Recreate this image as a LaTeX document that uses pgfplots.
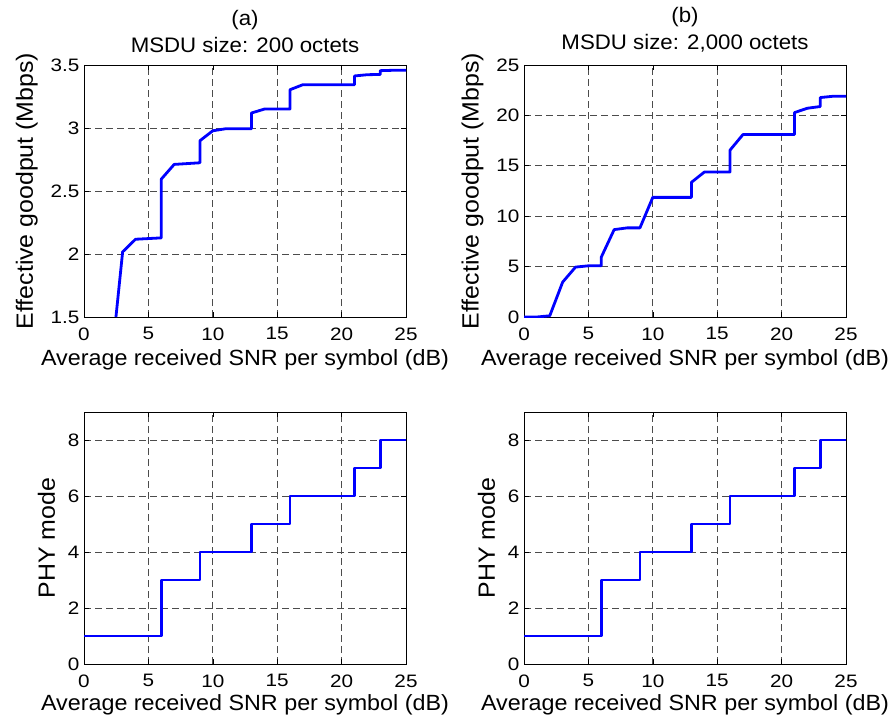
\documentclass[border=0pt]{standalone}
\usepackage{fontspec}
\setmainfont{Liberation Sans}
\newfontfamily\tickfont[FakeStretch=1.15]{Liberation Sans}
\newfontfamily\labfont[FakeStretch=1.06]{Liberation Sans}
\usepackage{pgfplots}
\pgfplotsset{compat=1.18}
\pgfplotsset{
  mystyle/.style={
    scale only axis,
    width=322pt, height=252pt,
    xmin=0, xmax=25,
    xtick={0,5,10,15,20,25},
    tick pos=both, tick align=inside,
    major tick length=5pt,
    axis line style={black, line width=0.8pt},
    every tick/.style={black, line width=0.6pt},
    grid=major,
    major grid style={dash pattern=on 7pt off 4pt, gray!60!black, line width=0.8pt},
    /pgf/number format/assume math mode=true,
    tick label style={font=\tickfont\fontsize{18}{20}\selectfont},
    xlabel style={font=\labfont\fontsize{22}{26}\selectfont},
    ylabel style={font=\labfont\fontsize{23.5}{26}\selectfont, yshift=6pt},
    title style={font=\labfont\fontsize{21}{27}\selectfont, align=center, yshift=3pt},
    xlabel={Average received SNR per symbol (dB)},
    xticklabel style={yshift=-7pt},
    yticklabel style={xshift=-1pt},
  },
  myline/.style={blue, line width=2.8pt, line join=round},
}
\begin{document}
\begin{tikzpicture}
\path[use as bounding box] (0pt,0pt) rectangle (888pt,724pt);
% (a) top
\begin{axis}[mystyle, at={(84pt,407pt)}, anchor=south west,
  ymin=1.5, ymax=3.5, ytick={1.5,2,2.5,3,3.5},
  ylabel={Effective goodput (Mbps)}, xlabel style={yshift=-2pt},
  title={(a)\\MSDU size: 200 octets}]
\addplot[myline] coordinates {
(2.48,1.5) (3,2.017) (4,2.117) (6,2.128) (6,2.594) (7,2.711) (9,2.724) (9,2.899)
(10,2.978) (11,2.994) (13,2.994) (13,3.119) (14,3.150) (16,3.150) (16,3.304)
(17,3.344) (21,3.344) (21,3.413) (22,3.423) (23,3.425) (23,3.455) (24,3.458) (25,3.458)
};
\end{axis}
% (b) top
\begin{axis}[mystyle, at={(524pt,407pt)}, anchor=south west,
  ymin=0, ymax=25, ytick={0,5,10,15,20,25},
  ylabel={Effective goodput (Mbps)}, xlabel style={yshift=-2pt},
  title={(b)\\MSDU size: {2,000} octets}]
\addplot[myline] coordinates {
(0,0) (1,0) (2,0.12) (3,3.46) (4,4.95) (5,5.08) (6,5.08) (6,5.94) (7,8.67) (8,8.84)
(9,8.84) (10,11.87) (13,11.87) (13,13.36) (14,14.38) (16,14.38) (16,16.56) (17,18.1)
(21,18.1) (21,20.28) (22,20.71) (23,20.88) (23,21.77) (24,21.9) (25,21.9)
};
\end{axis}
% (a) bottom
\begin{axis}[mystyle, at={(84pt,60pt)}, anchor=south west,
  ymin=0, ymax=9, ytick={0,2,4,6,8},
  ylabel={PHY mode}, xlabel style={yshift=0pt}]
\addplot[myline, const plot] coordinates {
(0,1) (6,3) (9,4) (13,5) (16,6) (21,7) (23,8) (25,8)
};
\end{axis}
% (b) bottom
\begin{axis}[mystyle, at={(524pt,60pt)}, anchor=south west,
  ymin=0, ymax=9, ytick={0,2,4,6,8},
  ylabel={PHY mode}, xlabel style={yshift=0pt}]
\addplot[myline, const plot] coordinates {
(0,1) (6,3) (9,4) (13,5) (16,6) (21,7) (23,8) (25,8)
};
\end{axis}
\end{tikzpicture}
\end{document}
